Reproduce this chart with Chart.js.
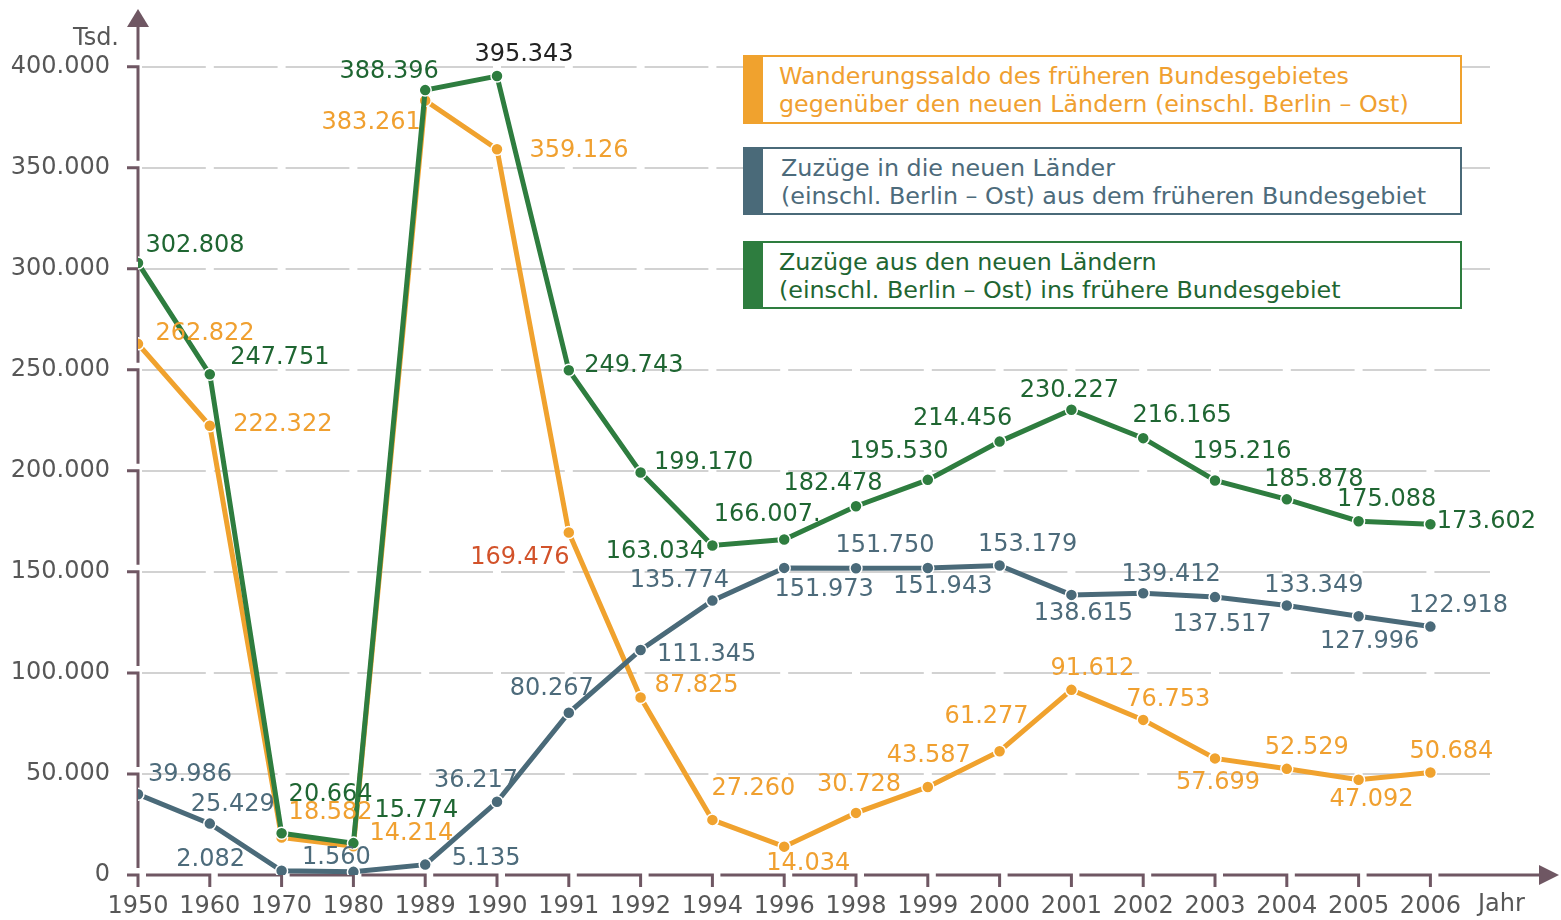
<!DOCTYPE html>
<html lang="de">
<head>
<meta charset="utf-8">
<script src="https://cdn.jsdelivr.net/npm/chart.js@4.4.1/dist/chart.umd.min.js"></script>
<style>
  body { margin: 0; background: #fff; }
  #wrap { position: relative; width: 1561px; height: 920px; }
  .leg {
    position: absolute; left: 743px; width: 719px; height: 68px;
    box-sizing: border-box; border: 2px solid; border-left-width: 20px;
    padding: 5px 0 0 16px; background: #fff; white-space: nowrap;
    font: 23.8px 'DejaVu Sans', sans-serif; line-height: 28px;
  }
</style>
</head>
<body>
<div id="wrap">
  <canvas id="chart"></canvas>
  <div class="leg" style="top:55px;height:69px;border-color:#f0a22e;color:#f0a030">Wanderungssaldo des früheren Bundesgebietes<br>gegenüber den neuen Ländern (einschl. Berlin – Ost)</div>
  <div class="leg" style="top:147px;border-color:#4a6a79;color:#4d6b7b;padding-left:18px">Zuzüge in die neuen Länder<br>(einschl. Berlin – Ost) aus dem früheren Bundesgebiet</div>
  <div class="leg" style="top:241px;border-color:#2e7d3f;color:#1f6632">Zuzüge aus den neuen Ländern<br>(einschl. Berlin – Ost) ins frühere Bundesgebiet</div>
</div>
<script>
// Daten
const years = ["1950", "1960", "1970", "1980", "1989", "1990", "1991", "1992", "1994", "1996",
  "1998", "1999", "2000", "2001", "2002", "2003", "2004", "2005", "2006"];

// Zuzüge aus den neuen Ländern ins frühere Bundesgebiet
const zuzuegeAusOst = [302808, 247751, 20664, 15774, 388396, 395343, 249743, 199170, 163034, 166007,
  182478, 195530, 214456, 230227, 216165, 195216, 185878, 175088, 173602];
// Zuzüge in die neuen Länder aus dem früheren Bundesgebiet
const zuzuegeInOst = [39986, 25429, 2082, 1560, 5135, 36217, 80267, 111345, 135774, 151973,
  151750, 151943, 153179, 138615, 139412, 137517, 133349, 127996, 122918];
// Wanderungssaldo
const saldo = [262822, 222322, 18582, 14214, 383261, 359126, 169476, 87825, 27260, 14034,
  30728, 43587, 61277, 91612, 76753, 57699, 52529, 47092, 50684];

const yTicks = [0, 50000, 100000, 150000, 200000, 250000, 300000, 350000, 400000];

// Lage der Beschriftungen (dx, dy zum Punkt)
const posAusOst = [[57,-17],[70,-17],[49,-38],[63,-32],[-36,-18],[27,-21],[65,-5],[63,-10],[-57,6],[-17,-25],
  [-23,-22],[-29,-28],[-37,-23],[-2,-19],[39,-22],[27,-29],[27,-20],[28,-21],[56,-2]];
const posInOst = [[52,-19],[23,-19],[-71,-11],[-17,-14],[61,-6],[-21,-21],[-17,-24],[66,5],[-33,-20],[40,22],
  [29,-23],[15,19],[28,-21],[12,19],[28,-19],[7,28],[27,-20],[11,25],[28,-21]];
const posSaldo = [[67,-10],[73,-1],[49,-25],[58,-13],[-54,22],[82,2],[-49,25],[56,-12],[41,-31],[24,17],
  [3,-28],[1,-31],[-13,-34],[21,-21],[25,-20],[3,24],[20,-21],[13,20],[21,-21]];

const FONT = "'DejaVu Sans', Verdana, sans-serif";
const axisColor = "#6f5763";
const fmt = v => v.toLocaleString("de-DE");

const toPoints = arr => arr.map((v, i) => ({ x: i, y: v }));

// Achsen mit Pfeilen, wie im Original in Stücken gezeichnet
const pfeilAchsen = {
  id: "pfeilAchsen",
  beforeDatasetsDraw(chart) {
    const { ctx, chartArea: a, scales: { x, y } } = chart;
    ctx.save();
    ctx.strokeStyle = axisColor;
    ctx.fillStyle = axisColor;
    ctx.lineWidth = 3;
    ctx.lineJoin = "miter";
    const y0 = a.bottom;
    let prev = a.left - 11;
    years.forEach((_, i) => {
      const px = x.getPixelForValue(i);
      ctx.beginPath();
      ctx.moveTo(prev, y0);
      ctx.lineTo(px, y0);
      ctx.lineTo(px, y0 + 12);
      ctx.stroke();
      prev = px + 8;
    });
    ctx.beginPath();
    ctx.moveTo(prev, y0);
    ctx.lineTo(1542, y0);
    ctx.stroke();
    ctx.beginPath();
    ctx.moveTo(1559, y0);
    ctx.lineTo(1539, y0 - 10);
    ctx.lineTo(1539, y0 + 10);
    ctx.closePath();
    ctx.fill();

    // y-Achse
    const left = a.left;
    for (let k = 1; k < yTicks.length; k++) {
      const py = y.getPixelForValue(yTicks[k]);
      const below = y.getPixelForValue(yTicks[k - 1]);
      ctx.beginPath();
      ctx.moveTo(left - 11, py);
      ctx.lineTo(left, py);
      ctx.lineTo(left, below - 7);
      ctx.stroke();
    }
    const top = y.getPixelForValue(yTicks[yTicks.length - 1]);
    ctx.beginPath();
    ctx.moveTo(left, top - 7);
    ctx.lineTo(left, 26);
    ctx.stroke();
    ctx.beginPath();
    ctx.moveTo(left, 9);
    ctx.lineTo(left - 11, 27);
    ctx.lineTo(left + 11, 27);
    ctx.closePath();
    ctx.fill();

    ctx.fillStyle = "#575757";
    ctx.font = "24px " + FONT;
    ctx.textBaseline = "middle";
    ctx.textAlign = "right";
    ctx.fillText("Tsd.", 119, 39);
    ctx.textAlign = "left";
    ctx.fillText("Jahr", 1478, 905);
    ctx.restore();
  }
};

// Werte an den Punkten
const werteLabels = {
  id: "werteLabels",
  afterDatasetsDraw(chart) {
    const { ctx } = chart;
    ctx.save();
    ctx.font = "24px " + FONT;
    ctx.textAlign = "center";
    ctx.textBaseline = "middle";
    chart.data.datasets.forEach((ds, di) => {
      const meta = chart.getDatasetMeta(di);
      meta.data.forEach((pt, i) => {
        const [dx, dy] = ds.labelPos[i];
        let txt = fmt(ds.data[i].y);
        if (ds.labelText && ds.labelText[i]) txt = ds.labelText[i];
        ctx.fillStyle = (ds.labelColors && ds.labelColors[i]) || ds.labelColor;
        ctx.fillText(txt, pt.x + dx, pt.y + dy);
      });
    });
    ctx.restore();
  }
};

const pointStyle = color => ({
  borderColor: color,
  backgroundColor: color,
  pointBackgroundColor: color,
  pointBorderColor: "#fff",
  pointBorderWidth: 1.5,
  pointRadius: 6,
  borderWidth: 5,
  tension: 0
});

Chart.defaults.font.family = FONT;

new Chart(document.getElementById("chart"), {
  type: "line",
  data: {
    datasets: [
      Object.assign({
        label: "Zuzüge in die neuen Länder",
        data: toPoints(zuzuegeInOst),
        order: 1,
        labelPos: posInOst,
        labelColor: "#4d6b7b"
      }, pointStyle("#4a6a79")),
      Object.assign({
        label: "Zuzüge aus den neuen Ländern",
        data: toPoints(zuzuegeAusOst),
        order: 2,
        labelPos: posAusOst,
        labelColor: "#1f6632",
        labelColors: { 5: "#222222" },
        labelText: { 9: "166.007." }
      }, pointStyle("#2e7d3f")),
      Object.assign({
        label: "Wanderungssaldo",
        data: toPoints(saldo),
        order: 3,
        labelPos: posSaldo,
        labelColor: "#f0a030",
        labelColors: { 6: "#d2522a" }
      }, pointStyle("#f0a22e"))
    ]
  },
  options: {
    responsive: true,
    maintainAspectRatio: false,
    animation: false,
    layout: { padding: { left: 0, right: 71, top: 11, bottom: 0 } },
    plugins: {
      legend: { display: false },
      tooltip: { enabled: false }
    },
    scales: {
      x: {
        type: "linear",
        min: 0,
        max: 18.83,
        afterBuildTicks: s => { s.ticks = years.map((_, i) => ({ value: i })); },
        afterFit: s => { s.height = 45; },
        grid: { display: false, drawTicks: false },
        border: { display: false },
        ticks: {
          autoSkip: false,
          maxRotation: 0,
          padding: 17,
          color: "#575757",
          font: { size: 24 },
          callback: v => years[v]
        }
      },
      y: {
        min: 0,
        max: 412000,
        afterBuildTicks: s => { s.ticks = yTicks.map(v => ({ value: v })); },
        afterFit: s => { s.width = 138; },
        grid: {
          drawTicks: false,
          lineWidth: 2,
          color: c => (c.tick && c.tick.value === 0 ? "rgba(0,0,0,0)" : "#d2d2d2")
        },
        border: { display: false, dash: [63.8, 8], dashOffset: 67.8 },
        ticks: {
          padding: 28,
          color: "#575757",
          font: { size: 24 },
          callback: v => fmt(v)
        }
      }
    }
  },
  plugins: [pfeilAchsen, werteLabels]
});
</script>
</body>
</html>
